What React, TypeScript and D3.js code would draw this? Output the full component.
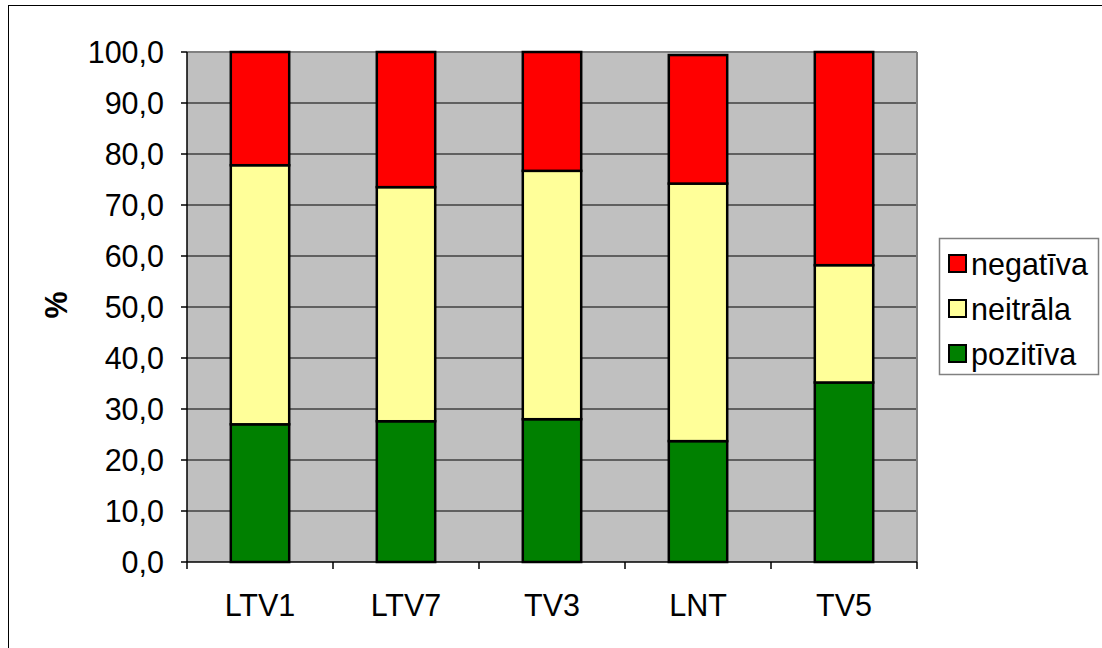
import * as d3 from 'd3';

const categories = ['LTV1', 'LTV7', 'TV3', 'LNT', 'TV5'];
const pozitiva = [27.0, 27.6, 28.0, 23.7, 35.2];
const neitrala = [50.8, 45.9, 48.7, 50.5, 23.0];
const negativa = [22.2, 26.5, 23.3, 25.2, 41.8];
const yTicks = [0, 10, 20, 30, 40, 50, 60, 70, 80, 90, 100];

const seriesNames = ['pozitīva', 'neitrāla', 'negatīva'];
const seriesColors = ['#008000', '#FFFF99', '#FF0000'];

const W = 1102;
const H = 648;
const plot = { left: 187, top: 52, right: 917, bottom: 562 };
const font = 'Arial, "Liberation Sans", sans-serif';
const fs = 30.5;

export default function App() {
  const x = d3.scaleBand<string>().domain(categories).range([plot.left, plot.right]).paddingInner(0.6).paddingOuter(0.3);
  const xb = d3.scaleLinear().domain([0, categories.length]).range([plot.left, plot.right]);
  const y = d3.scaleLinear().domain([0, 100]).range([plot.bottom, plot.top]);

  const rows = categories.map((c, i) => ({ cat: c, pozitiva: pozitiva[i], neitrala: neitrala[i], negativa: negativa[i] }));
  const stacked = d3.stack<any>().keys(['pozitiva', 'neitrala', 'negativa'])(rows);

  const fmt = (v: number) => v.toFixed(1).replace('.', ',');

  // legend order is reversed (top = negatīva)
  const legendItems = [2, 1, 0];
  const legendBox = { x: 939, y: 238, w: 159, h: 136 };

  return (
    <div style={{ position: 'fixed', left: 0, top: 0, width: W, height: H }}>
      <svg width={W} height={H} style={{ display: 'block', background: '#fff' }} fontFamily={font}>
        <rect x={8.5} y={5.5} width={W + 20} height={H + 20} fill="none" stroke="#000" strokeWidth={1} />

        <rect x={plot.left} y={plot.top} width={plot.right - plot.left} height={plot.bottom - plot.top} fill="#C0C0C0" />
        {yTicks.filter((t) => t > 0 && t < 100).map((t) => (
          <line key={t} x1={plot.left} x2={plot.right} y1={y(t)} y2={y(t)} stroke="#404040" strokeWidth={1.5} />
        ))}
        <line x1={plot.left} x2={plot.right} y1={plot.top} y2={plot.top} stroke="#808080" strokeWidth={2} />
        <line x1={plot.right} x2={plot.right} y1={plot.top} y2={plot.bottom} stroke="#808080" strokeWidth={2} />

        {stacked.map((s, si) =>
          s.map((d, i) => (
            <rect
              key={`${si}-${i}`}
              x={x(categories[i])}
              y={y(d[1])}
              width={x.bandwidth()}
              height={y(d[0]) - y(d[1])}
              fill={seriesColors[si]}
              stroke="#000"
              strokeWidth={2.5}
            />
          ))
        )}

        {/* axes */}
        <line x1={plot.left} x2={plot.left} y1={plot.top} y2={plot.bottom} stroke="#000" strokeWidth={1.5} />
        <line x1={plot.left} x2={plot.right} y1={plot.bottom} y2={plot.bottom} stroke="#000" strokeWidth={1.5} />
        {yTicks.map((t) => (
          <g key={t}>
            <line x1={plot.left - 6} x2={plot.left} y1={y(t)} y2={y(t)} stroke="#000" strokeWidth={1.5} />
            <text x={164} y={y(t)} dy="0.36em" textAnchor="end" fontSize={fs} fill="#000">
              {fmt(t)}
            </text>
          </g>
        ))}
        {d3.range(categories.length + 1).map((k) => (
          <line key={k} x1={xb(k)} x2={xb(k)} y1={plot.bottom} y2={plot.bottom + 7} stroke="#000" strokeWidth={1.5} />
        ))}
        {categories.map((c) => (
          <text key={c} x={x(c)! + x.bandwidth() / 2} y={616} textAnchor="middle" fontSize={fs} fill="#000">
            {c}
          </text>
        ))}

        <text transform={`translate(67,305) rotate(-90)`} textAnchor="middle" fontSize={fs} fontWeight="bold" fill="#000">
          %
        </text>

        {/* legend */}
        <rect x={legendBox.x + 0.5} y={legendBox.y + 0.5} width={legendBox.w} height={legendBox.h} fill="#fff" stroke="#808080" strokeWidth={1.5} />
        {legendItems.map((si, k) => {
          const cy = 264 + k * 45;
          return (
            <g key={si}>
              <rect x={949} y={cy - 9} width={17} height={17} fill={seriesColors[si]} stroke="#000" strokeWidth={2} />
              <text x={971} y={cy} dy="0.36em" fontSize={fs} fill="#000">
                {seriesNames[si]}
              </text>
            </g>
          );
        })}
      </svg>
    </div>
  );
}
